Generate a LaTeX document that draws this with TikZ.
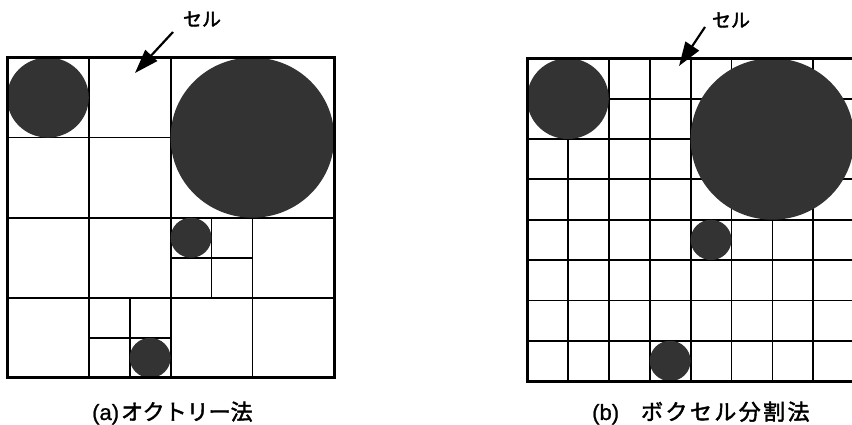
\documentclass[tikz,border=0pt]{standalone}
\usepackage{fontspec}
\setmainfont[FakeBold=1]{Liberation Sans}
\newfontfamily\jp[FakeBold=2]{Noto Sans CJK JP}
\newfontfamily\jpw[LetterSpace=11,FakeBold=2]{Noto Sans CJK JP}
\usetikzlibrary{arrows.meta}
\begin{document}
\begin{tikzpicture}[x=1pt,y=-1pt,
  boxline/.style={line width=3pt},
  gridline/.style={line width=1.8pt},
  ball/.style={fill=black!80, draw=none},
  pointer/.style={line width=2.2pt, -{Triangle[length=24pt,width=16pt]}},
  lbl/.style={inner sep=0pt, font=\jp\fontsize{19}{21}\selectfont},
  captext/.style={inner sep=0pt, anchor=west, font=\fontsize{22}{24}\selectfont}]
\useasboundingbox (0,0) rectangle (852,425);
\clip (0,0) rectangle (852,425);

% (a) octree
\begin{scope}[shift={(7,57.5)}, x=40.9pt, y=-40.05pt]
  \foreach \a/\b/\c/\d in {2/0/2/8, 4/0/4/8, 6/4/6/8, 0/2/4/2, 0/4/8/4, 0/6/8/6,
                           5/4/5/6, 4/5/6/5, 3/6/3/8, 2/7/4/7}
    \draw[gridline] (\a,\b) -- (\c,\d);
  \fill[ball] (1,1) circle [radius=1];
  \fill[ball] (6,2) circle [radius=2];
  \fill[ball] (4.5,4.5) circle [radius=0.5];
  \fill[ball] (3.5,7.5) circle [radius=0.5];
  \draw[boxline] (0,0) rectangle (8,8);
\end{scope}

% (b) voxel
\begin{scope}[shift={(527,58.3)}, x=40.9pt, y=-40.35pt]
  \foreach \i in {1,...,7} {
    \draw[gridline] (\i,0) -- (\i,8);
    \draw[gridline] (0,\i) -- (8,\i);
  }
  \fill[ball] (1,1) circle [radius=1];
  \fill[ball] (6,2) circle [radius=2];
  \fill[ball] (4.5,4.5) circle [radius=0.5];
  \fill[ball] (3.5,7.5) circle [radius=0.5];
  \draw[boxline] (0,0) rectangle (8,8);
\end{scope}

% labels and pointers
\node[lbl] (cellA) at (202,19) {セル};
\coordinate (tailA) at (173,32);
\coordinate (tipA) at (135,73);
\draw[pointer] (tailA) -- (tipA);

\node[lbl] (cellB) at (731,20) {セル};
\coordinate (tailB) at (705,27);
\coordinate (tipB) at (679,66);
\draw[pointer] (tailB) -- (tipB);

\node[captext] (capA) at (92,413) {(a)\hspace{2pt}{\jp オクトリー法}};
\node[captext] (capB) at (592,413) {(b)\hspace{22pt}{\jpw ボクセル分割法}};
\end{tikzpicture}
\end{document}
